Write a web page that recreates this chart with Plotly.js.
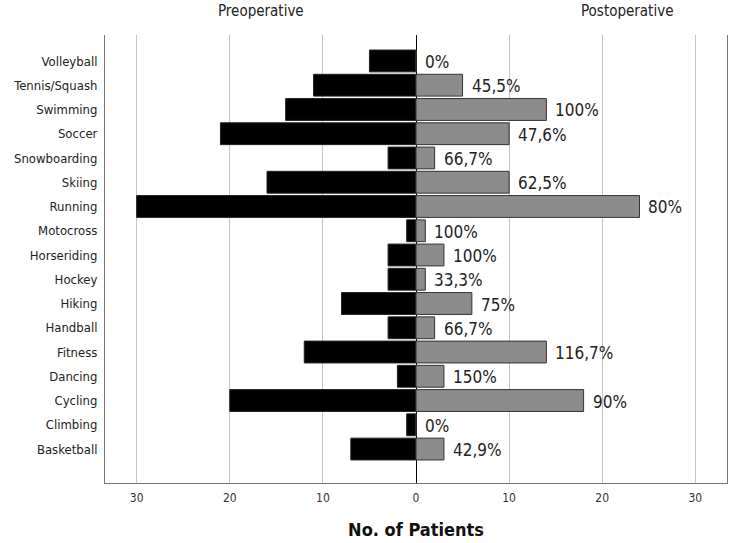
<!DOCTYPE html>
<html>
<head>
<meta charset="utf-8">
<script src="https://cdn.plot.ly/plotly-3.0.1.min.js"></script>
<style>html,body{margin:0;padding:0;background:#fff;}#chart{width:738px;height:543px;}</style>
</head>
<body>
<div id="chart"></div>
<script>
const sports = ["Volleyball","Tennis/Squash","Swimming","Soccer","Snowboarding","Skiing","Running","Motocross","Horseriding","Hockey","Hiking","Handball","Fitness","Dancing","Cycling","Climbing","Basketball"];
const preoperative = [5,11,14,21,3,16,30,1,3,3,8,3,12,2,20,1,7];
const postoperative = [0,5,14,10,2,10,24,1,3,1,6,2,14,3,18,0,3];
const percentLabels = ["0%","45,5%","100%","47,6%","66,7%","62,5%","80%","100%","100%","33,3%","75%","66,7%","116,7%","150%","90%","0%","42,9%"];
const tickValues = [-30,-20,-10,0,10,20,30];
const tickLabels = ["30","20","10","0","10","20","30"];

const FONT = "'DejaVu Sans Condensed', 'Liberation Sans Narrow', sans-serif";

const traces = [
  {
    type: "bar", orientation: "h", name: "Preoperative",
    y: sports, x: preoperative.map(v => -v),
    marker: {color: "#000000", line: {color: "#222", width: 1}},
    width: 0.9, hoverinfo: "skip"
  },
  {
    type: "bar", orientation: "h", name: "Postoperative",
    y: sports, x: postoperative,
    marker: {color: "#8c8c8c", line: {color: "#333", width: 1}},
    width: 0.9, hoverinfo: "skip"
  }
];

const annotations = sports.map((s, i) => ({
  x: postoperative[i], y: s, xref: "x", yref: "y",
  text: percentLabels[i], showarrow: false,
  xanchor: "left", yanchor: "middle", xshift: 7, yshift: -1,
  font: {family: FONT, size: 17, color: "#222"}
}));
annotations.push(
  {x: 0.251, y: 1, xref: "paper", yref: "paper", yshift: 24, text: "Preoperative", showarrow: false,
   xanchor: "center", yanchor: "middle", font: {family: FONT, size: 15, color: "#222"}},
  {x: 0.839, y: 1, xref: "paper", yref: "paper", yshift: 24, text: "Postoperative", showarrow: false,
   xanchor: "center", yanchor: "middle", font: {family: FONT, size: 15, color: "#222"}}
);

const layout = {
  width: 738, height: 543,
  margin: {l: 105, r: 11, t: 35, b: 60},
  paper_bgcolor: "#fff", plot_bgcolor: "#fff",
  barmode: "overlay",
  showlegend: false,
  font: {family: FONT, size: 13, color: "#222"},
  xaxis: {
    range: [-33.4, 33.4],
    tickvals: tickValues, ticktext: tickLabels,
    showgrid: true, gridcolor: "#c4c4c4", gridwidth: 1,
    zeroline: true, zerolinecolor: "#000", zerolinewidth: 1,
    showline: true, linecolor: "#777", linewidth: 1, mirror: false,
    ticks: "", ticklabelstandoff: 4, tickfont: {family: FONT, size: 12, color: "#333"},
    title: {text: "<b>No. of Patients</b>", font: {family: FONT, size: 18, color: "#111"}, standoff: 18}
  },
  yaxis: {
    type: "category",
    categoryorder: "array", categoryarray: sports,
    range: [17.4, -1.07],
    showgrid: false, zeroline: false,
    showline: true, linecolor: "#777", linewidth: 1, mirror: true,
    ticks: "", ticklabelstandoff: 4,
    tickfont: {family: FONT, size: 13, color: "#222"}
  },
  annotations: annotations
};

Plotly.newPlot("chart", traces, layout, {displayModeBar: false, staticPlot: true});
</script>
</body>
</html>
